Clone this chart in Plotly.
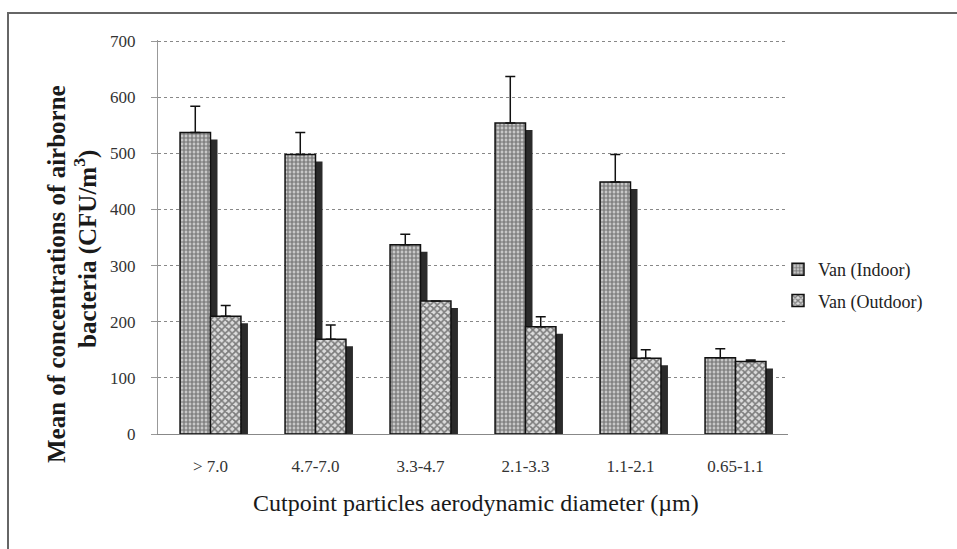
import plotly.graph_objects as go

categories = ["> 7.0", "4.7-7.0", "3.3-4.7", "2.1-3.3", "1.1-2.1", "0.65-1.1"]
indoor = [537, 498, 337, 554, 449, 136]
indoor_err = [47, 39, 19, 83, 49, 16]
outdoor = [210, 169, 237, 191, 135, 129]
outdoor_err = [19, 25, 0, 18, 15, 3]
series_names = ["Van (Indoor)", "Van (Outdoor)"]
y_title = ["Mean of concentrations of airborne", "bacteria (CFU/m<sup>3</sup>)"]
x_title = "Cutpoint particles aerodynamic diameter (µm)"

W, H = 957, 549
L, R, T, B = 158, 169, 40, 115
plot_w = W - L - R
plot_h = H - T - B
ymax = 702

bw = 0.29
sh_dx = 7 / (plot_w / len(categories))
sh_dy = 7 * ymax / plot_h

font_serif = "Liberation Serif"


def px_x(px):
    return (px - L) / plot_w


def px_y(py):
    return (H - B - py) / plot_h


fig = go.Figure()

# shadows
for vals, off in [(indoor, -bw), (outdoor, 0)]:
    fig.add_trace(go.Bar(
        x=categories, y=[v - sh_dy for v in vals], width=bw, offset=off + sh_dx,
        marker=dict(color="#2b2b2b", line=dict(width=0)),
        showlegend=False, hoverinfo="skip"))

fig.add_trace(go.Bar(
    x=categories, y=indoor, width=bw, offset=-bw, name=series_names[0],
    legendgroup="a",
    marker=dict(color="#c8c8c8", line=dict(color="#111", width=1.5),
                pattern=dict(shape="+", fgcolor="#1a1a1a", size=4, solidity=0.5)),
    error_y=dict(type="data", symmetric=False, array=indoor_err,
                 arrayminus=[0] * len(indoor), color="#111", thickness=1.5, width=5)))
fig.add_trace(go.Bar(
    x=categories, y=outdoor, width=bw, offset=0, name=series_names[1],
    legendgroup="b",
    marker=dict(color="#dcdcdc", line=dict(color="#111", width=1.5),
                pattern=dict(shape="x", fgcolor="#1a1a1a", size=5, solidity=0.55)),
    error_y=dict(type="data", symmetric=False, array=outdoor_err,
                 arrayminus=[0] * len(outdoor), color="#111", thickness=1.5, width=5)))

annotations = [
    dict(text="<b>" + y_title[0] + "</b>", textangle=-90, xref="paper", yref="paper",
         x=px_x(56), y=px_y(274), xanchor="center", yanchor="middle", showarrow=False,
         font=dict(family=font_serif, size=25, color="#1a1a1a")),
    dict(text="<b>" + y_title[1] + "</b>", textangle=-90, xref="paper", yref="paper",
         x=px_x(85), y=px_y(249), xanchor="center", yanchor="middle", showarrow=False,
         font=dict(family=font_serif, size=25, color="#1a1a1a")),
    dict(text=x_title, xref="paper", yref="paper",
         x=px_x(476), y=px_y(503), xanchor="center", yanchor="middle", showarrow=False,
         font=dict(family=font_serif, size=24, color="#1a1a1a")),
]

fig.update_layout(
    width=W, height=H, barmode="overlay",
    margin=dict(l=L, r=R, t=T, b=B),
    paper_bgcolor="white", plot_bgcolor="white",
    font=dict(family=font_serif, color="#222", size=17),
    xaxis=dict(showgrid=False, showline=True, linecolor="#888", linewidth=1,
               ticks="", tickfont=dict(size=17, color="#333"), ticklabelstandoff=17),
    yaxis=dict(range=[0, ymax], dtick=100, showgrid=True, gridcolor="#888",
               griddash="dot", gridwidth=1, showline=True, linecolor="#999",
               ticks="outside", ticklen=6, tickcolor="#999", ticklabelstandoff=12,
               tickfont=dict(size=17, color="#333"), zeroline=False),
    legend=dict(x=px_x(778), y=px_y(251), xanchor="left", yanchor="top",
                font=dict(size=18, color="#222"), tracegroupgap=5,
                itemwidth=30, bgcolor="rgba(0,0,0,0)"),
    annotations=annotations,
    shapes=[dict(type="rect", xref="paper", yref="paper",
                 x0=px_x(8), x1=1.5, y0=-0.5, y1=px_y(13),
                 line=dict(color="#666", width=2), layer="below")],
)

fig.write_html("out.html")
